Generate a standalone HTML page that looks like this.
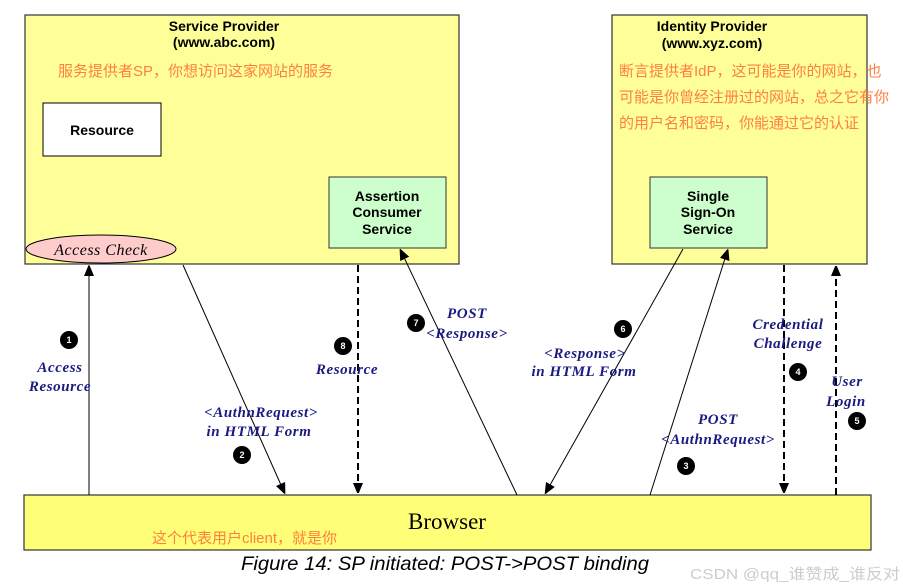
<!DOCTYPE html>
<html><head><meta charset="utf-8"><style>
html,body{margin:0;padding:0;background:#fff;}
svg{display:block;}
.t{font-family:"Liberation Sans",sans-serif;font-weight:bold;font-size:14px;fill:#000;text-anchor:middle;}
.cn{font-family:"Liberation Sans","Noto Sans CJK SC",sans-serif;font-size:15px;fill:#ff7f3f;}
.l{font-family:"Liberation Serif",serif;font-weight:bold;font-style:italic;font-size:15px;fill:#1a1a80;text-anchor:middle;letter-spacing:0.6px;}
.n{font-family:"Liberation Sans",sans-serif;font-weight:bold;font-size:9px;fill:#fff;text-anchor:middle;}
</style></head><body>
<svg width="903" height="587" viewBox="0 0 903 587" xmlns="http://www.w3.org/2000/svg">
<defs>
<marker id="a" markerWidth="10" markerHeight="12" refX="11" refY="5" orient="auto" markerUnits="userSpaceOnUse">
<path d="M0,0 L12,5 L0,10 Z" fill="#000"/></marker>
</defs>
<!-- SP -->
<rect x="25" y="15" width="434" height="249" fill="#ffff99" stroke="#333" stroke-width="1.2"/>
<text class="t" x="224" y="31">Service Provider</text>
<text class="t" x="224" y="47">(www.abc.com)</text>
<text class="cn" x="58" y="76">服务提供者SP，你想访问这家网站的服务</text>
<rect x="43" y="103" width="118" height="53" fill="#fff" stroke="#000" stroke-width="1"/>
<text class="t" x="102" y="135">Resource</text>
<rect x="329" y="177" width="117" height="71" fill="#ccffcc" stroke="#333" stroke-width="1"/>
<text class="t" x="387" y="201">Assertion</text>
<text class="t" x="387" y="217">Consumer</text>
<text class="t" x="387" y="234">Service</text>
<ellipse cx="101" cy="249" rx="75" ry="14" fill="#ffcccc" stroke="#000" stroke-width="1"/>
<text x="101" y="255" text-anchor="middle" font-family="Liberation Serif,serif" font-style="italic" font-size="16" letter-spacing="0.5">Access Check</text>
<!-- IdP -->
<rect x="612" y="15" width="255" height="249" fill="#ffff99" stroke="#333" stroke-width="1.2"/>
<text class="t" x="712" y="31">Identity Provider</text>
<text class="t" x="712" y="48">(www.xyz.com)</text>
<text class="cn" x="619" y="76">断言提供者IdP，这可能是你的网站，也</text>
<text class="cn" x="619" y="102">可能是你曾经注册过的网站，总之它有你</text>
<text class="cn" x="619" y="128">的用户名和密码，你能通过它的认证</text>
<rect x="650" y="177" width="117" height="71" fill="#ccffcc" stroke="#333" stroke-width="1"/>
<text class="t" x="708" y="201">Single</text>
<text class="t" x="708" y="217">Sign-On</text>
<text class="t" x="708" y="234">Service</text>
<!-- Browser -->
<rect x="24" y="495" width="847" height="55" fill="#ffff77" stroke="#333" stroke-width="1.2"/>
<text x="447" y="529" text-anchor="middle" font-family="Liberation Serif,serif" font-size="23">Browser</text>
<text class="cn" x="152" y="543" font-size="14">这个代表用户client，就是你</text>
<!-- arrows -->
<g stroke="#000" stroke-width="1" fill="none">
<line x1="89" y1="495" x2="89" y2="265" marker-end="url(#a)"/>
<line x1="183" y1="265" x2="285" y2="494" marker-end="url(#a)"/>
<line x1="358" y1="265" x2="358" y2="494" stroke-width="2" stroke-dasharray="7,4" marker-end="url(#a)"/>
<line x1="517" y1="495" x2="400" y2="249" marker-end="url(#a)"/>
<line x1="683" y1="249" x2="545" y2="494" marker-end="url(#a)"/>
<line x1="650" y1="495" x2="728" y2="249" marker-end="url(#a)"/>
<line x1="784" y1="265" x2="784" y2="494" stroke-width="2" stroke-dasharray="7,4" marker-end="url(#a)"/>
<line x1="836" y1="495" x2="836" y2="265" stroke-width="2" stroke-dasharray="7,4" marker-end="url(#a)"/>
</g>
<!-- numbers -->
<g fill="#000">
<circle cx="69" cy="340" r="9"/><circle cx="242" cy="455" r="9"/><circle cx="343" cy="346" r="9"/>
<circle cx="416" cy="323" r="9"/><circle cx="623" cy="329" r="9"/><circle cx="686" cy="466" r="9"/>
<circle cx="798" cy="372" r="9"/><circle cx="857" cy="421" r="9"/>
</g>
<text class="n" x="69" y="343">1</text><text class="n" x="242" y="458">2</text><text class="n" x="343" y="349">8</text>
<text class="n" x="416" y="326">7</text><text class="n" x="623" y="332">6</text><text class="n" x="686" y="469">3</text>
<text class="n" x="798" y="375">4</text><text class="n" x="857" y="424">5</text>
<!-- labels -->
<text class="l" x="60" y="372">Access</text><text class="l" x="60" y="391">Resource</text>
<text class="l" x="261" y="417">&lt;AuthnRequest&gt;</text><text class="l" x="259" y="436">in  HTML Form</text>
<text class="l" x="347" y="374">Resource</text>
<text class="l" x="467" y="318">POST</text><text class="l" x="467" y="338">&lt;Response&gt;</text>
<text class="l" x="585" y="358">&lt;Response&gt;</text><text class="l" x="584" y="376">in  HTML Form</text>
<text class="l" x="788" y="329">Credential</text><text class="l" x="788" y="348">Challenge</text>
<text class="l" x="847" y="386">User</text><text class="l" x="846" y="406">Login</text>
<text class="l" x="718" y="424">POST</text><text class="l" x="718" y="444">&lt;AuthnRequest&gt;</text>
<!-- caption -->
<text x="445" y="570" text-anchor="middle" font-family="Liberation Sans,sans-serif" font-style="italic" font-size="19" textLength="408" lengthAdjust="spacingAndGlyphs">Figure 14: SP initiated:  POST-&gt;POST binding</text>
<text x="690" y="579" font-family="Liberation Sans,'Noto Sans CJK SC',sans-serif" font-size="15" fill="#cccccc" textLength="210" lengthAdjust="spacingAndGlyphs">CSDN @qq_谁赞成_谁反对</text>
</svg>
</body></html>
